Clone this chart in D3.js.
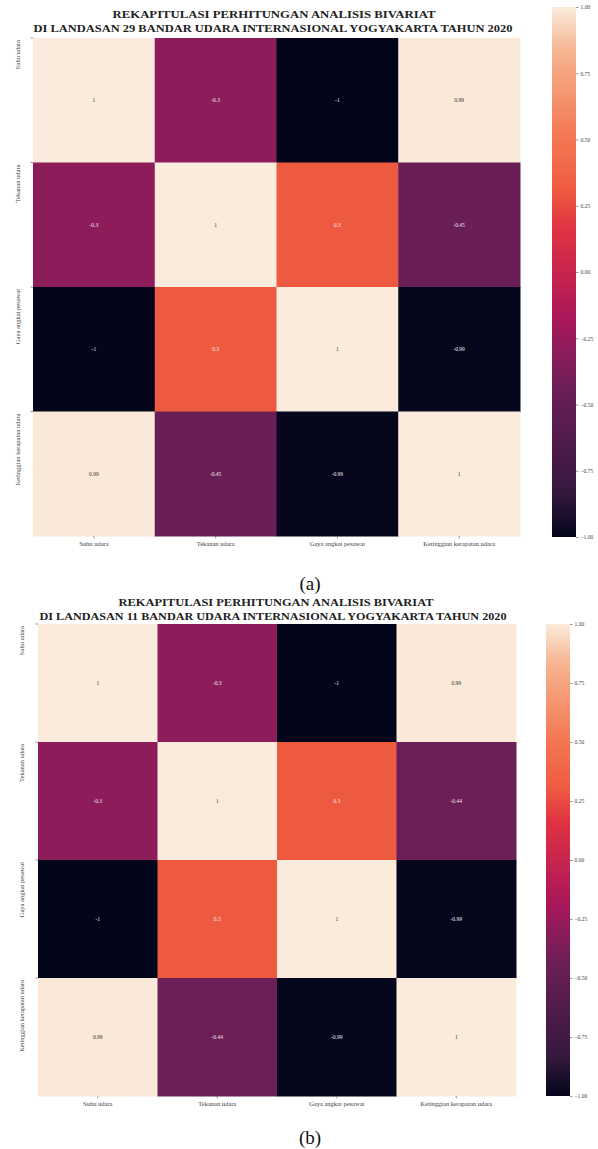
<!DOCTYPE html>
<html><head><meta charset="utf-8">
<script src="https://cdn.jsdelivr.net/npm/d3@7"></script>
<style>body{margin:0;background:#fff}svg{display:block}</style>
</head><body>
<script>
const categories = ["Suhu udara","Tekanan udara","Gaya angkat pesawat","Ketinggian kerapatan udara"];
const valuesA = [
  [1, -0.3, -1, 0.99],
  [-0.3, 1, 0.3, -0.45],
  [-1, 0.3, 1, -0.99],
  [0.99, -0.45, -0.99, 1]
];
const valuesB = [
  [1, -0.3, -1, 0.99],
  [-0.3, 1, 0.3, -0.44],
  [-1, 0.3, 1, -0.99],
  [0.99, -0.44, -0.99, 1]
];
const titleLine1 = "REKAPITULASI PERHITUNGAN ANALISIS BIVARIAT";
const titleA2 = "DI LANDASAN 29 BANDAR UDARA INTERNASIONAL YOGYAKARTA TAHUN 2020";
const titleB2 = "DI LANDASAN 11 BANDAR UDARA INTERNASIONAL YOGYAKARTA TAHUN 2020";
const colorbarTicks = [1, 0.75, 0.5, 0.25, 0, -0.25, -0.5, -0.75, -1];
const rocketStops = ["#03051a","#35193e","#6a1e56","#8c1c5a","#ad1759","#e13342","#ee5a40","#f37651","#f6b48f","#faebdd"];
const rocketPos = [-1, -0.833, -0.45, -0.3, -0.167, 0.167, 0.3, 0.5, 0.833, 1];

const W = 598, H = 1149;
const svg = d3.select("body").append("svg").attr("width", W).attr("height", H);
const color = d3.scaleLinear().domain(rocketPos).range(rocketStops).interpolate(d3.interpolateRgb).clamp(true);
const serif = "'Liberation Serif','DejaVu Serif',serif";

const defs = svg.append("defs");
const grad = defs.append("linearGradient").attr("id","rocket").attr("x1",0).attr("y1",1).attr("x2",0).attr("y2",0);
d3.range(0, 1.0001, 0.02).forEach(t => {
  grad.append("stop").attr("offset", t).attr("stop-color", color(-1 + 2*t));
});

function panel(cfg) {
  const g = svg.append("g");
  const x = d3.scaleBand().domain(categories).range([cfg.x0, cfg.x1]);
  const y = d3.scaleBand().domain(categories).range([cfg.y0, cfg.y1]);
  const cells = [];
  cfg.values.forEach((row, i) => row.forEach((v, j) => cells.push({r: categories[i], c: categories[j], v})));

  g.selectAll("rect.cell").data(cells).join("rect")
    .attr("x", d => x(d.c)).attr("y", d => y(d.r))
    .attr("width", x.bandwidth() + 0.5).attr("height", y.bandwidth() + 0.5)
    .attr("fill", d => color(d.v));

  g.selectAll("text.ann").data(cells).join("text")
    .attr("x", d => x(d.c) + x.bandwidth()/2)
    .attr("y", d => y(d.r) + y.bandwidth()/2)
    .attr("dy", "0.35em").attr("text-anchor", "middle")
    .attr("font-family", serif).attr("font-size", 5.5)
    .attr("fill", d => d.v < 0.5 ? "#f2e6ea" : "#333")
    .text(d => String(d.v));

  g.append("text").attr("x", cfg.t1x).attr("y", cfg.t1y).attr("text-anchor","middle")
    .attr("font-family", serif).attr("font-weight","bold").attr("font-size", 9.5)
    .attr("textLength", cfg.t1w).attr("lengthAdjust","spacingAndGlyphs").attr("fill","#222")
    .text(titleLine1);
  g.append("text").attr("x", cfg.t2x).attr("y", cfg.t2y).attr("text-anchor","middle")
    .attr("font-family", serif).attr("font-weight","bold").attr("font-size", 9.5)
    .attr("textLength", cfg.t2w).attr("lengthAdjust","spacingAndGlyphs").attr("fill","#222")
    .text(cfg.title2);

  const xa = g.append("g").attr("transform", `translate(0,${cfg.y1})`)
    .call(d3.axisBottom(x).tickSize(2.5).tickPadding(3));
  xa.select(".domain").remove();
  xa.selectAll("line").attr("stroke","#555").attr("stroke-width",0.6);
  xa.selectAll("text").attr("font-family", serif).attr("font-size", 6.5).attr("fill","#444");

  g.selectAll("line.ytick").data(categories).join("line")
    .attr("x1", cfg.x0 - 2.5).attr("x2", cfg.x0)
    .attr("y1", d => y(d)).attr("y2", d => y(d))
    .attr("stroke","#555").attr("stroke-width",0.6);
  g.selectAll("text.ylab").data(categories).join("text")
    .attr("transform", d => `translate(${cfg.ylx},${y(d) + 2}) rotate(-90)`)
    .attr("text-anchor","end")
    .attr("font-family", serif).attr("font-size", 6.5).attr("fill","#444")
    .text(d => d);

  const cb = d3.scaleLinear().domain([-1, 1]).range([cfg.cbY1, cfg.cbY0]);
  g.append("rect").attr("x", cfg.cbX).attr("y", cfg.cbY0).attr("width", cfg.cbW)
    .attr("height", cfg.cbY1 - cfg.cbY0).attr("fill","url(#rocket)");
  const ca = g.append("g").attr("transform", `translate(${cfg.cbX + cfg.cbW},0)`)
    .call(d3.axisRight(cb).tickValues(colorbarTicks).tickFormat(d3.format(".2f")).tickSize(2.5).tickPadding(2));
  ca.select(".domain").remove();
  ca.selectAll("line").attr("stroke","#555").attr("stroke-width",0.6);
  ca.selectAll("text").attr("font-family", serif).attr("font-size", 5.5).attr("fill","#444");

  svg.append("text").attr("x", cfg.capX).attr("y", cfg.capY).attr("text-anchor","middle")
    .attr("font-family", serif).attr("font-size", 19).attr("fill","#111").text(cfg.caption);
}

panel({values: valuesA, x0: 33, x1: 520, y0: 38, y1: 536, ylx: 20,
  cbX: 552, cbW: 24, cbY0: 7, cbY1: 537,
  t1x: 274, t1y: 18, t1w: 323, t2x: 273, t2y: 32, t2w: 479, title2: titleA2,
  capX: 310, capY: 590, caption: "(a)"});
panel({values: valuesB, x0: 38, x1: 516, y0: 624, y1: 1096, ylx: 24,
  cbX: 546, cbW: 24, cbY0: 624, cbY1: 1096,
  t1x: 276, t1y: 606, t1w: 315, t2x: 273, t2y: 620, t2w: 467, title2: titleB2,
  capX: 310, capY: 1144, caption: "(b)"});
</script>
</body></html>
